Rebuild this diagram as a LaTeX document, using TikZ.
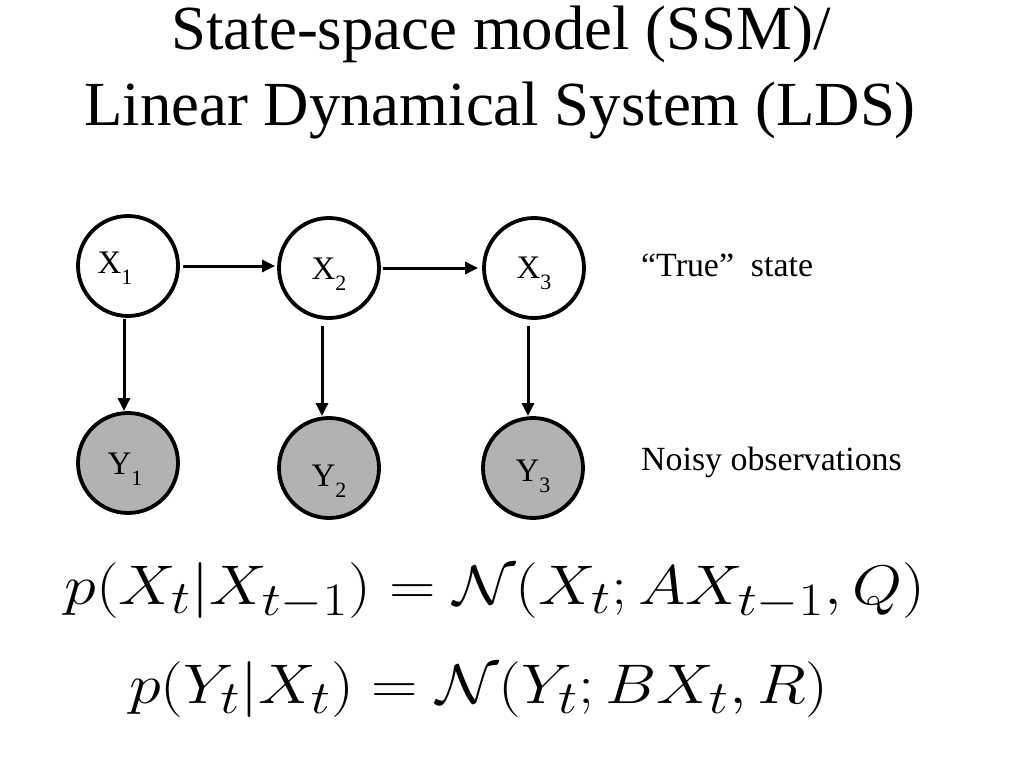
\documentclass[tikz,border=0pt]{standalone}
\usepackage[no-math]{fontspec}
\setmainfont{Liberation Serif}
\usetikzlibrary{arrows.meta}
\definecolor{obsgray}{RGB}{178,178,178}
\newcommand\lowsub[1]{\raisebox{-0.36em}{\fontsize{22}{22}\selectfont #1}}
\newcommand\vartext[3]{\raisebox{#1}{#2\lowsub{#3}}}
\begin{document}
\begin{tikzpicture}[x=1bp,y=-1bp,
  st/.style={circle,draw,line width=3.8bp,minimum size=100bp,inner sep=0pt,text height=22bp,text depth=8bp,font=\fontsize{33}{33}\selectfont},
  obs/.style={st,fill=obsgray},
  arr/.style={line width=3bp,-{Triangle[length=13bp,width=12bp]}},
  lbl/.style={font=\fontsize{34}{34}\selectfont,anchor=base west,inner sep=0pt},
  ttl/.style={font=\fontsize{63}{63}\selectfont,anchor=base,inner sep=0pt},
  eq/.style={font=\fontsize{24.88}{30}\selectfont,inner sep=0pt,xscale=2.6,yscale=2.25,transform shape}]
\useasboundingbox[fill=white] (0,0) rectangle (1024,768);
\node[ttl] (t1) at (501,50) {State-space model (SSM)/};
\node[ttl] (t2) at (500,125) {Linear Dynamical System (LDS)};
\node[st] (X1) at (128,266) {\vartext{0bp}{X}{1}\rule{26bp}{0pt}};
\node[st] (X2) at (329,268) {\vartext{-4bp}{X}{2}};
\node[st] (X3) at (534,268) {\vartext{-3bp}{X}{3}};
\node[obs] (Y1) at (128,463) {\vartext{-4bp}{Y}{1}\rule{6bp}{0pt}};
\node[obs] (Y2) at (329,468) {\vartext{-11bp}{Y}{2}};
\node[obs] (Y3) at (533,468) {\vartext{-6bp}{Y}{3}};
\draw[arr,shorten <=3bp,shorten >=2bp] (X1) -- (X1 -| X2.west);
\draw[arr,shorten <=2bp,shorten >=4bp] (X2.east) -- (X3.west);
\draw[arr,shorten <=1bp] ([xshift=-4bp]X1.south) -- ([xshift=-4bp]X1.south |- Y1.north);
\draw[arr,shorten <=6bp] ([xshift=-7bp]X2.south) -- ([xshift=-7bp]X2.south |- Y2.north);
\draw[arr,shorten <=6bp] ([xshift=-6bp]X3.south) -- ([xshift=-6bp]X3.south |- Y3.north);
\node[lbl] (true) at (641,276) {“True”~~state};
\node[lbl] (noisy) at (641,470) {Noisy observations};
\node[eq] (eq1) at (495,591) {$p(X_t|X_{t-1}) = \mathcal{N}(X_t; AX_{t-1}, Q)$};
\node[eq] (eq2) at (479,690) {$p(Y_t|X_t) = \mathcal{N}(Y_t; BX_t, R)$};
\end{tikzpicture}
\end{document}
